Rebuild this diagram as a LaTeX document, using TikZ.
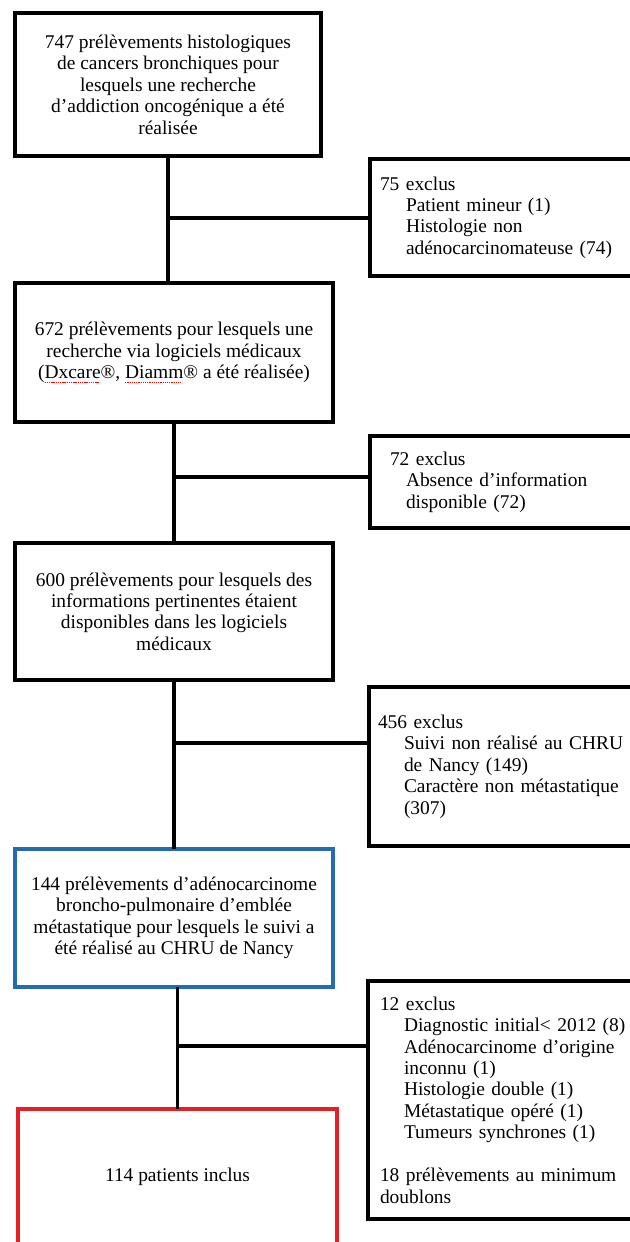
\documentclass[tikz,border=0pt]{standalone}
\usepackage{fontspec}
\setmainfont{Liberation Serif}
\definecolor{boxblue}{RGB}{36,108,178}
\definecolor{boxred}{RGB}{226,32,38}
\newsavebox\spellbox
\newcommand\spellerr[1]{\sbox\spellbox{#1}\rlap{\color{red}\raisebox{-0.5ex}{\hbox to\wd\spellbox{\leaders\hbox{\rule{1.3bp}{1bp}\kern0.9bp}\hfill}}}\usebox\spellbox}
\begin{document}
\begin{tikzpicture}[x=1bp,y=-1bp,
  txt/.style={font=\fontsize{19.5}{21.5}\selectfont},
  mainbox/.style={txt,draw,line width=3.1bp,inner sep=0pt,outer sep=0pt,align=center,anchor=north west},
  exbox/.style={txt,draw,line width=3.1bp,inner ysep=0pt,outer sep=0pt,align=left,anchor=north west},
  conn/.style={draw,line width=3.1bp}]
\useasboundingbox (0,0) rectangle (630,1242);
\clip (0,0) rectangle (630,1242);
\fill[white] (0,0) rectangle (630,1242);

% main column
\node[mainbox,minimum width=306bp,minimum height=143bp] (b1) at (15,13)
 {747 prélèvements histologiques\\de cancers bronchiques pour\\lesquels une recherche\\d’addiction oncogénique a été\\réalisée};
\node[mainbox,minimum width=318bp,minimum height=139bp] (b2) at (15,283)
 {672 prélèvements pour lesquels une\\recherche via logiciels médicaux\\(\spellerr{Dxcare}®, \spellerr{Diamm}® a été réalisée)};
\node[mainbox,minimum width=318bp,minimum height=137bp] (b3) at (15,543)
 {600 prélèvements pour lesquels des\\informations pertinentes étaient\\disponibles dans les logiciels\\médicaux};
\node[mainbox,draw=boxblue,minimum width=318bp,minimum height=138bp] (b4) at (15,849)
 {144 prélèvements d’adénocarcinome\\broncho-pulmonaire d’emblée\\métastatique pour lesquels le suivi a\\été réalisé au CHRU de Nancy};
\node[mainbox,draw=boxred,minimum width=319bp,minimum height=136bp] (b5) at (18,1109)
 {114 patients inclus};

% exclusion boxes
\node[exbox,inner xsep=10bp,text width=250bp,minimum height=117bp] (e1) at (370,159)
 {75 exclus\\\hspace*{26bp}Patient mineur (1)\\\hspace*{26bp}Histologie non\\\hspace*{26bp}adénocarcinomateuse (74)};
\node[exbox,inner xsep=20bp,text width=230bp,minimum height=92bp] (e2) at (370,436)
 {72 exclus\\\hspace*{16bp}Absence d’information\\\hspace*{16bp}disponible (72)};
\node[exbox,inner xsep=9bp,text width=253bp,minimum height=159bp] (e3) at (369,687)
 {456 exclus\\\hspace*{26bp}Suivi non réalisé au CHRU\\\hspace*{26bp}de Nancy (149)\\\hspace*{26bp}Caractère non métastatique\\\hspace*{26bp}(307)};
\node[exbox,inner xsep=12bp,text width=250bp,minimum height=238bp] (e4) at (368,981)
 {12 exclus\\\hspace*{24bp}Diagnostic initial< 2012 (8)\\\hspace*{24bp}Adénocarcinome d’origine\\\hspace*{24bp}inconnu (1)\\\hspace*{24bp}Histologie double (1)\\\hspace*{24bp}Métastatique opéré (1)\\\hspace*{24bp}Tumeurs synchrones (1)\\[21.5bp]18 prélèvements au minimum\\doublons};

% junctions
\coordinate (j1) at (0,218);
\coordinate (j2) at (0,477);
\coordinate (j3) at (0,743);
\coordinate (j4) at (0,1046);

% connectors
\draw[conn] (b1.south) -- (b1.south |- b2.north);
\draw[conn] (b1.south |- j1) -- (e1.west |- j1);
\draw[conn] (b2.south) -- (b2.south |- b3.north);
\draw[conn] (b2.south |- j2) -- (e2.west |- j2);
\draw[conn] (b3.south) -- (b3.south |- b4.north);
\draw[conn] (b3.south |- j3) -- (e3.west |- j3);
\draw[conn] (b5.north |- b4.south) -- (b5.north);
\draw[conn] (b5.north |- j4) -- (e4.west |- j4);
\end{tikzpicture}
\end{document}
